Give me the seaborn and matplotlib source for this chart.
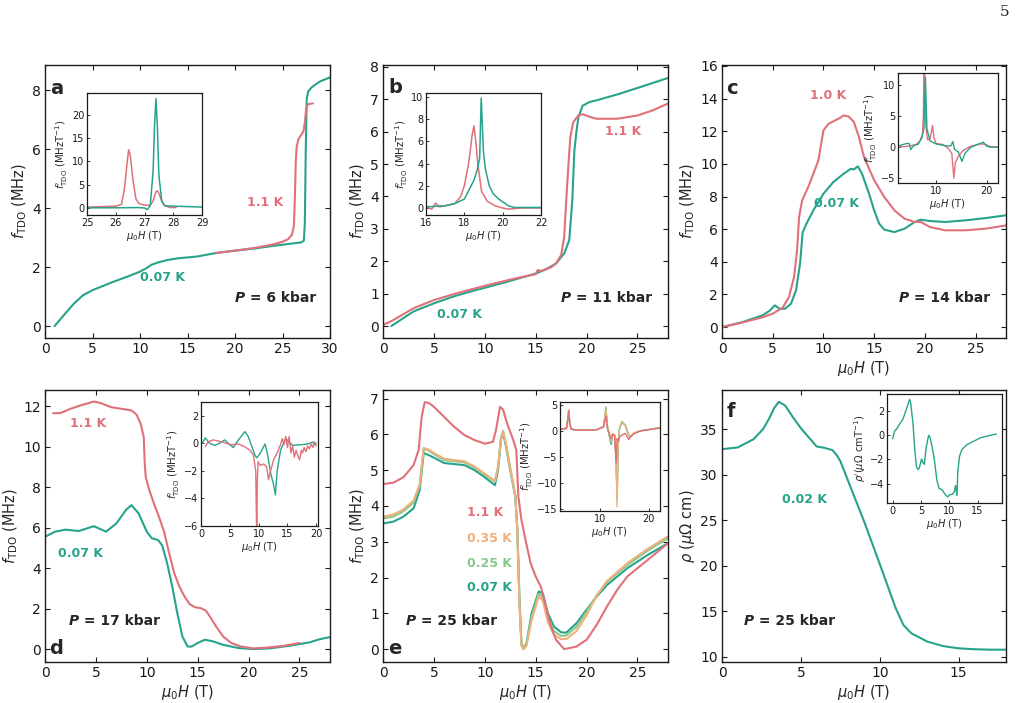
import numpy as np
import matplotlib
matplotlib.use("Agg")
import matplotlib.pyplot as plt
import seaborn as sns

# ---------------- colours ----------------
PINK = "#e0707a"
TEAL = "#27a38b"
ORANGE = "#f0b07c"
LGREEN = "#86c98b"

# ---------------- panel a (6 kbar) ----------------
A_X_007 = [1.0, 2, 3, 4, 5, 6, 7, 8, 9, 10, 10.6, 11.2, 12, 13, 14, 15, 16, 17, 18, 20, 22, 24, 26, 27,
           27.25, 27.35, 27.45, 27.55, 27.7, 28, 28.5, 29, 30]
A_Y_007 = [0.0, 0.38, 0.75, 1.05, 1.22, 1.35, 1.48, 1.6, 1.72, 1.85, 1.95, 2.08, 2.17, 2.25, 2.3, 2.33, 2.36,
           2.42, 2.48, 2.56, 2.63, 2.72, 2.8, 2.84, 2.9, 3.5, 6.0, 7.7, 7.95, 8.07, 8.2, 8.3, 8.43]
A_X_11 = [18, 20, 22, 24, 25, 25.6, 26.0, 26.2, 26.3, 26.4, 26.5, 26.7, 27.0, 27.2, 27.35, 27.5, 27.7, 28.2]
A_Y_11 = [2.48, 2.56, 2.65, 2.77, 2.86, 2.95, 3.1, 3.4, 4.3, 5.6, 6.1, 6.35, 6.5, 6.6, 6.9, 7.4, 7.52, 7.55]
AI_X_007 = [25, 26, 26.8, 27.0, 27.1, 27.2, 27.3, 27.35, 27.4, 27.45, 27.5, 27.6, 27.7, 28, 28.5, 29]
AI_Y_007 = [0.05, 0.05, 0.1, 0.0, -0.3, 0.5, 8, 18, 23.5, 17, 7, 1.5, 0.5, 0.4, 0.3, 0.2]
AI_X_11 = [25, 25.5, 26, 26.2, 26.3, 26.4, 26.45, 26.5, 26.6, 26.7, 26.8, 27.0, 27.2, 27.3, 27.4, 27.45,
           27.5, 27.6, 27.7, 27.9, 28.1]
AI_Y_11 = [0.2, 0.3, 0.4, 0.8, 4, 10, 12.5, 11.5, 6, 2, 1.0, 0.6, 0.6, 1.5, 3.5, 3.7, 3.2, 1.5, 0.5, 0.1, 0.1]

# ---------------- panel b (11 kbar) ----------------
B_X_007 = [0.82, 3, 5, 7, 9, 10, 12, 15, 16, 17, 17.8, 18.3, 18.6, 18.8, 19.0, 19.2, 19.6, 20.3, 21, 23, 25, 28]
B_Y_007 = [0.0, 0.45, 0.7, 0.92, 1.1, 1.18, 1.35, 1.62, 1.75, 1.93, 2.24, 2.65, 3.9, 5.4, 6.0, 6.45, 6.8,
           6.92, 6.97, 7.15, 7.35, 7.66]
B_X_11 = [0, 1, 3, 5, 7, 9, 11, 13, 15, 15.2, 15.5, 16.5, 17, 17.5, 17.8, 18.1, 18.4, 18.7, 19.2, 19.6,
          20.3, 21, 23, 25, 26.5, 28]
B_Y_11 = [0.03, 0.18, 0.55, 0.8, 0.99, 1.16, 1.32, 1.47, 1.6, 1.73, 1.7, 1.81, 1.93, 2.19, 2.75, 4.4, 5.84,
          6.3, 6.5, 6.54, 6.46, 6.4, 6.4, 6.5, 6.66, 6.87]
BI_X_007 = [16, 17, 17.5, 18.0, 18.5, 18.7, 18.8, 18.88, 18.95, 19.0, 19.1, 19.3, 19.5, 19.8, 20.3, 20.6, 22]
BI_Y_007 = [0.1, 0.2, 0.4, 0.8, 2.5, 3.6, 4.5, 9.9, 7.0, 5.0, 3.5, 2.0, 1.3, 0.8, 0.2, 0.05, 0.05]
BI_X_11 = [16, 16.3, 16.5, 16.7, 17.0, 17.5, 17.8, 18.0, 18.2, 18.3, 18.4, 18.5, 18.6, 18.7, 18.9, 19.2,
           19.6, 20.0, 20.3, 21, 22]
BI_Y_11 = [0.1, -0.1, 0.45, 0.1, 0.2, 0.4, 1.0, 2.0, 3.8, 5.0, 6.5, 7.4, 6.0, 4.0, 1.5, 0.6, 0.2, 0.0,
           -0.1, 0.0, 0.0]

# ---------------- panel c (14 kbar) ----------------
C_X_007 = [0, 2, 4, 4.7, 5.2, 5.7, 6.2, 6.8, 7.3, 7.7, 7.95, 8.3, 9, 10, 11, 12, 12.7, 13.0, 13.4, 13.8,
           14.5, 15, 15.5, 16, 17, 18, 19, 19.6, 20.5, 22, 24, 26, 28]
C_Y_007 = [0, 0.3, 0.72, 1.0, 1.33, 1.12, 1.12, 1.43, 2.25, 3.9, 5.8, 6.3, 7.15, 8.17, 8.9, 9.4, 9.7, 9.66,
           9.85, 9.4, 8.17, 7.15, 6.33, 5.97, 5.82, 6.03, 6.44, 6.58, 6.5, 6.44, 6.54, 6.68, 6.85]
C_X_10 = [0, 2, 4, 5, 6, 6.6, 7.1, 7.4, 7.6, 7.9, 8.5, 9.5, 10, 10.5, 11.5, 12, 12.5, 13, 13.5, 14, 15, 16,
          17, 18, 19, 19.6, 20.5, 22, 24, 26, 28]
C_Y_10 = [0, 0.28, 0.6, 0.82, 1.2, 1.84, 3.06, 4.7, 6.74, 7.76, 8.58, 10.2, 12.05, 12.46, 12.77, 12.97,
          12.9, 12.57, 11.65, 10.42, 9.0, 7.97, 7.15, 6.64, 6.44, 6.44, 6.13, 5.93, 5.93, 6.03, 6.23]
CI_X_007 = [2.6, 4.2, 4.7, 5.0, 5.5, 6.5, 7.2, 7.6, 7.9, 8.2, 8.8, 10.1, 12.1, 12.9, 13.3, 13.6, 14.4,
            15.1, 15.7, 16.7, 18, 19.3, 19.9, 20.6, 22.2]
CI_Y_007 = [0.2, 0.6, 0.6, -0.4, 0.2, 0.5, 1.5, 3.0, 11.3, 3.0, 1.0, 0.5, 0.2, 0.2, 0.9, -0.3, -0.8,
            -2.3, -1.0, -0.1, 0.4, 0.8, 0.2, 0.0, 0.0]
CI_X_10 = [2.6, 4.9, 6.2, 6.8, 7.3, 7.5, 7.6, 7.75, 7.9, 8.3, 8.8, 9.1, 9.3, 9.6, 10.0, 11.4, 12.4, 13.1,
           13.5, 13.8, 14.4, 15.4, 16.7, 18.7, 19.6, 20.6, 22.2]
CI_Y_10 = [0.0, 0.2, 0.5, 1.0, 2.0, 5.0, 13.0, 12.0, 4.0, 1.2, 1.3, 2.5, 3.5, 1.5, 0.6, 0.4, -0.2, -1.0,
           -5.0, -2.5, -1.5, -0.5, 0.1, 0.5, 0.5, 0.1, 0.0]

# ---------------- panel d (17 kbar) ----------------
D_X_007 = [0, 1, 2, 3.3, 4.8, 6, 7, 8, 8.5, 9.2, 10, 10.5, 11.1, 11.5, 12, 12.5, 13, 13.5, 14, 14.4, 15,
           15.7, 16.5, 17.5, 19, 20.5, 22, 24, 26, 27, 28]
D_Y_007 = [5.55, 5.8, 5.9, 5.83, 6.07, 5.8, 6.2, 6.9, 7.11, 6.7, 5.8, 5.47, 5.39, 5.14, 4.24, 3.09, 1.77,
           0.62, 0.13, 0.12, 0.3, 0.46, 0.38, 0.21, 0.05, 0.0, 0.03, 0.16, 0.33, 0.49, 0.59]
D_X_11 = [0.8, 1.5, 2.5, 3.5, 4.8, 5.5, 6.5, 7.5, 8.5, 9.0, 9.4, 9.7, 9.8, 9.9, 10.2, 10.7, 11.2, 11.7,
          12.2, 12.7, 13.2, 13.7, 14.2, 14.7, 15.3, 15.8, 16.3, 16.8, 17.5, 18.3, 19.2, 20.5, 22, 23.5, 25]
D_Y_11 = [11.65, 11.66, 11.87, 12.04, 12.23, 12.15, 11.95, 11.87, 11.79, 11.58, 11.13, 10.48, 9.16, 8.5,
          7.93, 7.19, 6.53, 5.8, 4.73, 3.74, 3.09, 2.6, 2.23, 2.07, 2.02, 1.9, 1.53, 1.12, 0.62, 0.3, 0.13,
          0.03, 0.08, 0.16, 0.3]
DI_X_007 = [0.2, 0.75, 1.5, 2.35, 3.2, 4.1, 5.0, 5.6, 6.5, 7.6, 8.2, 9.4, 9.7, 10.3, 11.1, 11.5, 12.1,
            12.6, 12.9, 13.2, 13.8, 14.7, 15.3, 15.9, 17.4, 18.5, 19.4, 19.7, 20]
DI_Y_007 = [0.0, 0.4, 0.0, -0.15, 0.0, 0.25, -0.1, -0.3, 0.25, 0.85, 0.5, -0.9, -1.05, -0.7, -0.05, -0.7,
            -2.2, -3.0, -3.75, -2.05, -0.5, 0.35, 0.1, -0.15, -0.1, -0.05, 0.1, -0.1, 0.0]
DI_X_11 = [0.75, 1.2, 2.1, 3.2, 4.4, 5.3, 6.5, 7.6, 8.5, 9.1, 9.5, 9.65, 9.7, 9.75, 9.9, 10.3, 10.9, 11.4,
           11.7, 12.1, 12.6, 13.2, 13.8, 14.1, 14.4, 14.7, 15.0, 15.3, 15.6, 15.9, 16.2, 16.5, 16.8, 17.1,
           17.4, 17.6, 17.9, 18.2, 18.5, 18.8, 19.1, 19.4, 19.7, 20]
DI_Y_11 = [-0.25, 0.1, 0.25, 0.15, 0.0, -0.1, -0.05, -0.25, -0.5, -0.85, -2.0, -6.5, -6.5, -3.0, -1.35,
           -1.6, -1.5, -1.7, -2.65, -1.95, -1.2, -0.7, -0.1, 0.35, -0.1, 0.5, -0.3, 0.5, -0.7, -0.2, -1.0,
           -0.5, -0.9, -1.2, -0.5, -0.7, -0.3, -0.6, -0.2, -0.4, -0.05, -0.3, 0.1, -0.2]

# ---------------- panel e (25 kbar) ----------------
E_X_11 = [0, 1, 2, 3, 3.5, 3.8, 4.1, 4.5, 5, 6, 7, 8, 9, 10, 10.8, 11.1, 11.5, 11.8, 12.2, 12.8, 13.1,
          13.3, 13.6, 14, 14.5, 15, 15.5, 16, 16.5, 17, 17.8, 19, 20, 21, 22, 23, 24, 26, 28]
E_Y_11 = [4.61, 4.65, 4.8, 5.14, 5.56, 6.49, 6.9, 6.88, 6.77, 6.49, 6.21, 5.98, 5.84, 5.74, 5.79, 6.12,
          6.77, 6.69, 6.3, 5.84, 5.56, 4.26, 3.61, 3.05, 2.4, 2.03, 1.75, 1.19, 0.63, 0.26, 0.0, 0.07, 0.26,
          0.68, 1.19, 1.65, 2.03, 2.49, 2.96]
E_X = [0, 1, 2, 3, 3.6, 4.0, 4.5, 5, 6, 7, 8, 9, 10, 11, 11.3, 11.6, 11.8, 12.1, 12.5, 13.0, 13.2, 13.4,
       13.6, 13.8, 14.1, 14.6, 15.3, 15.7, 16.2, 16.8, 17.5, 18, 19, 20, 21, 22, 24, 26, 28]
E_Y_007 = [3.51, 3.56, 3.7, 3.93, 4.44, 5.48, 5.42, 5.35, 5.2, 5.17, 5.14, 5.0, 4.8, 4.58, 5.0, 5.88, 6.02,
           5.65, 5.0, 4.26, 3.33, 1.47, 0.17, 0.0, 0.17, 1.0, 1.61, 1.56, 1.0, 0.63, 0.47, 0.46, 0.72, 1.1,
           1.47, 1.79, 2.26, 2.63, 2.96]
E_Y_025 = [3.65, 3.7, 3.85, 4.1, 4.55, 5.6, 5.55, 5.45, 5.28, 5.25, 5.22, 5.07, 4.87, 4.68, 5.08, 5.92,
           6.1, 5.7, 5.05, 4.3, 3.3, 1.35, 0.12, 0.0, 0.14, 0.9, 1.55, 1.45, 0.88, 0.5, 0.37, 0.38, 0.62,
           1.05, 1.5, 1.88, 2.35, 2.75, 3.1]
E_Y_035 = [3.7, 3.76, 3.9, 4.15, 4.6, 5.62, 5.57, 5.48, 5.32, 5.28, 5.25, 5.1, 4.9, 4.7, 5.1, 5.9, 6.08,
           5.7, 5.05, 4.3, 3.3, 1.3, 0.1, 0.0, 0.1, 0.8, 1.48, 1.35, 0.75, 0.4, 0.28, 0.28, 0.5, 0.95, 1.5,
           1.9, 2.4, 2.8, 3.15]
EI_X = [1.8, 3.1, 3.3, 3.6, 3.8, 4.1, 5.9, 9.3, 10.7, 11.0, 11.2, 11.5, 11.7, 12.1, 12.3, 12.6, 13.0,
        13.3, 13.5, 13.7, 14.0, 14.5, 15.2, 15.9, 16.2, 16.9, 18.3, 22.3]
EI_Y_007 = [0.3, 0.5, 1.5, 3.9, 1.5, 0.3, 0.1, 0.2, 0.8, 2.5, 4.3, 1.0, 0.0, -2.0, -2.6, -0.8, -0.8, -5.0,
            -12.5, -3.0, 0.5, 1.7, 1.0, -0.9, -1.2, -0.5, 0.0, 0.6]
EI_Y_025 = [0.3, 0.5, 1.5, 4.0, 1.5, 0.3, 0.1, 0.2, 0.8, 2.6, 4.6, 1.0, 0.0, -1.8, -2.3, -0.8, -0.8, -5.5,
            -13.5, -3.0, 0.5, 1.7, 1.0, -0.9, -1.2, -0.5, 0.0, 0.6]
EI_Y_035 = [0.3, 0.5, 1.5, 4.0, 1.5, 0.3, 0.1, 0.2, 0.8, 2.5, 4.0, 1.0, 0.0, -1.5, -2.0, -0.6, -0.8, -6.0,
            -14.5, -3.0, 0.6, 1.8, 1.1, -0.8, -1.1, -0.4, 0.0, 0.6]
EI_Y_11 = [0.3, 0.4, 1.3, 3.8, 1.3, 0.3, 0.1, 0.2, 0.7, 1.8, 2.8, 0.6, 0.0, -1.0, -1.5, -0.6, -1.0, -6.0,
           -1.5, -2.0, -1.2, -0.8, -0.5, -1.7, -1.2, -0.6, 0.0, 0.5]

# ---------------- panel f (25 kbar, resistivity) ----------------
F_X = [0, 1, 2, 2.6, 3.0, 3.3, 3.6, 4.0, 4.5, 5, 5.5, 6, 6.5, 7, 7.25, 7.5, 8, 9, 10, 11, 11.5, 12, 13, 14,
       15, 16, 17, 18]
F_Y = [32.8, 33.0, 33.9, 35.0, 36.2, 37.3, 38.0, 37.6, 36.3, 35.1, 34.1, 33.1, 32.95, 32.7, 32.2, 31.5,
       29.3, 24.9, 20.2, 15.4, 13.5, 12.6, 11.7, 11.2, 10.95, 10.85, 10.8, 10.8]
FI_X = [0, 0.35, 0.76, 1.2, 1.5, 1.8, 2.2, 2.6, 3.0, 3.2, 3.6, 3.9, 4.2, 4.5, 4.7, 5.1, 5.4, 5.6, 5.9, 6.35,
        6.6, 6.9, 7.35, 7.8, 8.2, 8.7, 9.3, 9.7, 10.1, 10.5, 10.9, 11.1, 11.35, 11.5, 11.8, 12.2, 13.1,
        14.3, 15.5, 16.6, 18.3]
FI_Y = [-0.28, 0.33, 0.55, 0.9, 1.1, 1.3, 1.85, 2.4, 2.96, 2.6, 0.9, -1.2, -2.6, -2.85, -2.7, -1.97, -2.3,
        -2.4, -1.05, 0.0, -0.2, -0.8, -2.0, -3.7, -4.4, -4.5, -4.9, -5.1, -4.9, -4.9, -4.65, -4.15, -5.0,
        -3.0, -1.75, -1.2, -0.78, -0.5, -0.22, -0.08, 0.1]

W, H = 1021, 703

sns.set_theme(style="ticks")
plt.rcParams.update({
    "font.family": ["DejaVu Sans"],
    "axes.edgecolor": "0.1",
    "axes.linewidth": 1.0,
    "xtick.direction": "in",
    "ytick.direction": "in",
    "xtick.top": True,
    "ytick.right": True,
    "xtick.major.size": 3.5,
    "ytick.major.size": 3.5,
    "xtick.color": "0.1",
    "ytick.color": "0.1",
    "axes.facecolor": "white",
    "figure.facecolor": "white",
})

fig = plt.figure(figsize=(W / 100, H / 100), dpi=100)


def box(x0, x1, y0, y1):
    return [x0 / W, (H - y1) / H, (x1 - x0) / W, (y1 - y0) / H]


def line(ax, x, y, color, lw=1.5):
    sns.lineplot(x=np.asarray(x, float), y=np.asarray(y, float), ax=ax, color=color, linewidth=lw,
                 estimator=None, sort=False, legend=False)


FS_TICK = 10
FS_LAB = 10.5
FS_ITICK = 7
FS_ILAB = 7.2
YLAB_F = r"$f_{\rm TDO}$ (MHz)"
XLAB = r"$\mu_0H$ (T)"
ILAB_F = r"$f^{\prime}_{\rm TDO}$ (MHzT$^{-1}$)"


def main_axes(rect, xlim, ylim, xticks, yticks, xlabel=True, ylabel=YLAB_F):
    ax = fig.add_axes(rect)
    ax.set_xlim(*xlim)
    ax.set_ylim(*ylim)
    ax.set_xticks(xticks)
    ax.set_yticks(yticks)
    ax.tick_params(labelsize=FS_TICK, width=0.8, pad=3)
    ax.set_ylabel(ylabel, fontsize=FS_LAB, labelpad=2)
    if xlabel:
        ax.set_xlabel(XLAB, fontsize=FS_LAB, labelpad=2)
    else:
        ax.set_xlabel("")
    return ax


def inset_axes(rect, xlim, ylim, xticks, yticks, ylabel=ILAB_F):
    ax = fig.add_axes(rect)
    ax.set_xlim(*xlim)
    ax.set_ylim(*ylim)
    ax.set_xticks(xticks)
    ax.set_yticks(yticks)
    ax.tick_params(labelsize=FS_ITICK, width=0.6, length=2.5, pad=2, top=False, right=False)
    ax.set_ylabel(ylabel, fontsize=FS_ILAB, labelpad=1)
    ax.set_xlabel(XLAB, fontsize=FS_ILAB, labelpad=1)
    for s in ax.spines.values():
        s.set_linewidth(0.9)
    return ax


def label(ax, x, y, s, color, size=9, ha="center"):
    ax.text(x, y, s, color=color, fontsize=size, fontweight="bold", ha=ha, va="center")


def pressure(ax, x, y, s):
    ax.text(x, y, "P", fontsize=10, fontweight="bold", fontstyle="italic", ha="right", va="center")
    ax.text(x, y, " = " + s, fontsize=10, fontweight="bold", ha="left", va="center")


def letter(ax, x, y, s):
    ax.text(x, y, s, fontsize=14, fontweight="bold", ha="left", va="center")


# ---- a ----
ax = main_axes(box(45, 330, 65, 338), (0, 30), (-0.4, 8.85), [0, 5, 10, 15, 20, 25, 30], [0, 2, 4, 6, 8],
               xlabel=False)
line(ax, A_X_007, A_Y_007, TEAL)
line(ax, A_X_11, A_Y_11, PINK)
label(ax, 23.2, 4.2, "1.1 K", PINK)
label(ax, 12.4, 1.66, "0.07 K", TEAL)
pressure(ax, 21.05, 0.95, "6 kbar")
letter(ax, 0.55, 8.05, "a")
ia = inset_axes(box(87, 202, 93, 215), (25, 29), (-1.5, 24.7), [25, 26, 27, 28, 29], [0, 5, 10, 15, 20])
line(ia, AI_X_11, AI_Y_11, PINK, 1.1)
line(ia, AI_X_007, AI_Y_007, TEAL, 1.1)

# ---- b ----
ax = main_axes(box(383, 668, 65, 338), (0, 28), (-0.37, 8.06), [0, 5, 10, 15, 20, 25], list(range(9)),
               xlabel=False)
line(ax, B_X_007, B_Y_007, TEAL)
line(ax, B_X_11, B_Y_11, PINK)
label(ax, 23.6, 6.0, "1.1 K", PINK)
label(ax, 7.56, 0.37, "0.07 K", TEAL)
pressure(ax, 18.5, 0.86, "11 kbar")
letter(ax, 0.55, 7.35, "b")
ib = inset_axes(box(426, 541, 93, 215), (16, 22), (-0.63, 10.36), [16, 18, 20, 22], [0, 2, 4, 6, 8, 10])
line(ib, BI_X_11, BI_Y_11, PINK, 1.1)
line(ib, BI_X_007, BI_Y_007, TEAL, 1.1)

# ---- c ----
ax = main_axes(box(722, 1006, 65, 338), (0, 28), (-0.67, 16.06), [0, 5, 10, 15, 20, 25],
               list(range(0, 17, 2)))
line(ax, C_X_007, C_Y_007, TEAL)
line(ax, C_X_10, C_Y_10, PINK)
label(ax, 10.45, 14.17, "1.0 K", PINK)
label(ax, 11.3, 7.6, "0.07 K", TEAL)
pressure(ax, 18.4, 1.78, "14 kbar")
letter(ax, 0.45, 14.6, "c")
ic = inset_axes(box(898, 998, 73, 183), (2.5, 22.2), (-5.8, 12), [10, 20], [-5, 0, 5, 10])
line(ic, CI_X_10, CI_Y_10, PINK, 1.0)
line(ic, CI_X_007, CI_Y_007, TEAL, 1.0)

# ---- d ----
ax = main_axes(box(45, 330, 390, 662), (0, 28), (-0.64, 12.8), [0, 5, 10, 15, 20, 25],
               list(range(0, 13, 2)))
line(ax, D_X_007, D_Y_007, TEAL)
line(ax, D_X_11, D_Y_11, PINK)
label(ax, 4.2, 11.16, "1.1 K", PINK)
label(ax, 3.44, 4.74, "0.07 K", TEAL)
pressure(ax, 3.34, 1.38, "17 kbar")
letter(ax, 0.45, 0.05, "d")
idd = inset_axes(box(201, 318, 402, 526), (0, 20.3), (-6, 3), [0, 5, 10, 15, 20], [-6, -4, -2, 0, 2])
line(idd, DI_X_007, DI_Y_007, TEAL, 1.0)
line(idd, DI_X_11, DI_Y_11, PINK, 1.0)

# ---- e ----
ax = main_axes(box(383, 668, 390, 662), (0, 28), (-0.36, 7.24), [0, 5, 10, 15, 20, 25], list(range(8)))
line(ax, E_X, E_Y_007, TEAL)
line(ax, E_X, E_Y_025, LGREEN)
line(ax, E_X, E_Y_035, ORANGE)
line(ax, E_X_11, E_Y_11, PINK)
label(ax, 8.3, 3.82, "1.1 K", PINK, ha="left")
label(ax, 8.3, 3.09, "0.35 K", ORANGE, ha="left")
label(ax, 8.3, 2.40, "0.25 K", LGREEN, ha="left")
label(ax, 8.3, 1.73, "0.07 K", TEAL, ha="left")
pressure(ax, 3.24, 0.78, "25 kbar")
letter(ax, 0.55, 0.03, "e")
ie = inset_axes(box(560, 660, 402, 511), (1.8, 22.3), (-15.3, 5.5), [10, 20], [-15, -10, -5, 0, 5])
line(ie, EI_X, EI_Y_007, TEAL, 1.0)
line(ie, EI_X, EI_Y_025, LGREEN, 1.0)
line(ie, EI_X, EI_Y_035, ORANGE, 1.0)
line(ie, EI_X, EI_Y_11, PINK, 1.0)

# ---- f ----
ax = main_axes(box(722, 1006, 390, 662), (0, 18), (9.45, 39.3), [0, 5, 10, 15], [10, 15, 20, 25, 30, 35],
               ylabel=r"$\rho$ ($\mu\Omega$ cm)")
line(ax, F_X, F_Y, TEAL)
label(ax, 5.2, 27.3, "0.02 K", TEAL)
pressure(ax, 2.03, 13.95, "25 kbar")
letter(ax, 0.3, 36.9, "f")
iff = inset_axes(box(887, 1002, 394, 503), (-1.0, 19.3), (-5.6, 3.4), [0, 5, 10, 15], [-4, -2, 0, 2],
                 ylabel=r"$\rho^{\prime}$($\mu\Omega$ cmT$^{-1}$)")
line(iff, FI_X, FI_Y, TEAL, 1.0)

fig.text(1005 / W, 1 - 12 / H, "5", fontsize=11, family="DejaVu Serif", ha="center", va="center")

fig.savefig("out.png", dpi=100)
